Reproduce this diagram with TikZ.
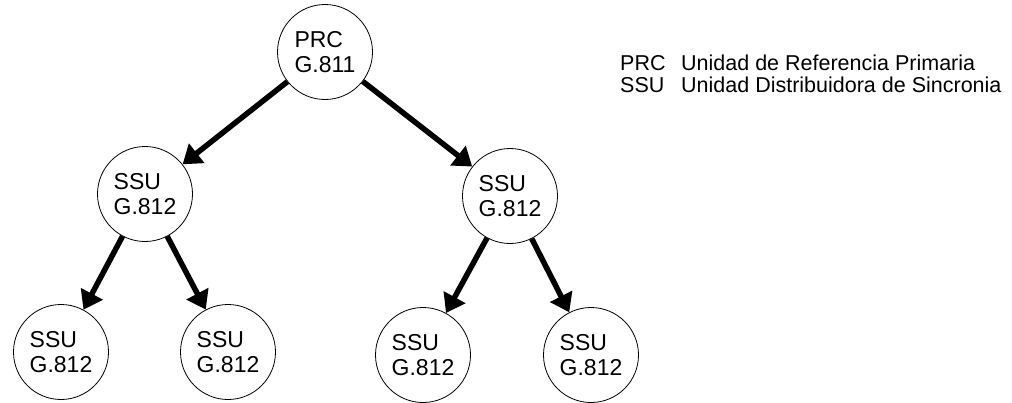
\documentclass[tikz,border=0pt]{standalone}
\usepackage{fontspec}
\setmainfont{Liberation Sans}
\usetikzlibrary{arrows.meta}
\begin{document}
\begin{tikzpicture}[x=1pt,y=-1pt,
  unit/.style={circle, draw, line width=0.8pt, minimum size=95pt, inner sep=0pt,
    font=\fontsize{23}{25}\selectfont, align=left},
  feed/.style={line width=5.5pt, -{Triangle[length=18pt,width=24pt]}},
  legend/.style={anchor=base west, inner sep=0pt, font=\fontsize{21.5}{22}\selectfont}]
\useasboundingbox (0,0) rectangle (1012,402);

% synchronisation hierarchy
\node[unit] (prc) at (325,52)  {PRC\\G.811};
\node[unit] (sl)  at (145,194) {SSU\\G.812};
\node[unit] (sr)  at (510,196) {SSU\\G.812};
\node[unit] (sll) at (61,352)  {SSU\\G.812};
\node[unit] (slr) at (228,352) {SSU\\G.812};
\node[unit] (srl) at (423,355) {SSU\\G.812};
\node[unit] (srr) at (591,355) {SSU\\G.812};

\draw[feed] (prc) -- (sl);
\draw[feed] (prc) -- (sr);
\draw[feed] (sl) -- (sll);
\draw[feed] (sl) -- (slr);
\draw[feed] (sr) -- (srl);
\draw[feed] (sr) -- (srr);

% abbreviations
\node[legend] (kprc) at (620,70) {PRC};
\node[legend] (dprc) at (681,70) {Unidad de Referencia Primaria};
\node[legend] (kssu) at (620,92) {SSU};
\node[legend] (dssu) at (681,92) {Unidad Distribuidora de Sincronia};
\end{tikzpicture}
\end{document}
